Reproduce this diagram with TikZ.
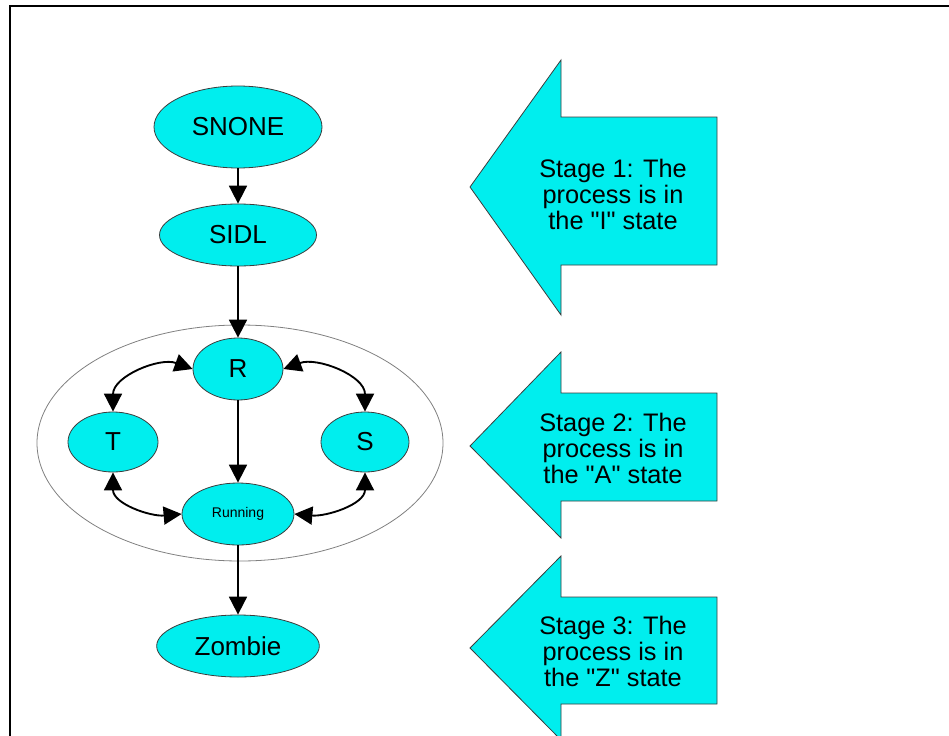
\documentclass[tikz,border=0pt]{standalone}
\usepackage{fontspec}
\setmainfont{Liberation Sans}
\usepackage{tikz}
\usetikzlibrary{arrows.meta,positioning,shapes.geometric}
\definecolor{stcyan}{RGB}{0,238,238}
\definecolor{stline}{RGB}{60,60,60}

\begin{document}
\begin{tikzpicture}[x=0.75pt,y=0.75pt,->,>={Triangle[length=13.5pt,width=13.5pt]},line width=1.4pt,
        proc/.style={ellipse,draw=stline,line width=0.6pt,fill=stcyan,inner sep=0pt,font=\fontsize{19.5}{21}\selectfont},
        stage/.style={-,draw=stline,line width=0.6pt,fill=stcyan},
        stagetext/.style={align=center,font=\fontsize{19}{19.5}\selectfont}]
        \useasboundingbox (0,0) rectangle (949,-735);
        \draw[-,line width=2.2pt] (10,-740) -- (10,-6) -- (952,-6);
        % the "A" group
        \draw[-,draw=gray,line width=0.6pt] (240,-443) ellipse (203 and 118);
		\node[proc,minimum width=126pt,minimum height=61.5pt]              (SNONE)   at (238,-127)        {SNONE};
		\node[proc,minimum width=117.75pt,minimum height=46.5pt,node distance=81pt]    (SIDL)    [below of=SNONE]     {SIDL};
		\node[proc,minimum width=67.5pt,minimum height=46.5pt,node distance=100.5pt]   (R)       [below of=SIDL]      {R};
		\node[proc,minimum width=84pt,minimum height=46.5pt,node distance=108.75pt,font=\fontsize{10.5}{12}\selectfont] (Running) [below of=R] {Running};
		\node[proc,minimum width=122pt,minimum height=46.5pt,node distance=99pt]       (Zombie)  [below of=Running]   {Zombie};
		\node[proc,minimum width=67.5pt,minimum height=45pt,node distance=54.75pt,xshift=-93.75pt] (T) [below of=R] {T};
		\node[proc,minimum width=66pt,minimum height=45pt,node distance=54.75pt,xshift=95.25pt]    (S) [below of=R] {S};
		\path (SNONE)    edge                         (SIDL)
		      (SIDL)     edge                         (R)
		      (R)        edge                         (Running)
		      (Running)  edge                         (Zombie)
		      (R.west)   edge [<->,out=160,in=90]     (T.north)
		      (R.east)   edge [<->,out=20,in=90]      (S.north)
		      (T.south)  edge [<->,out=-90,in=185]    (Running.west)
		      (S.south)  edge [<->,out=-90,in=-5]     (Running.east);
        % stage arrows
        \draw[stage] (470,-187) -- (561,-60) -- (561,-117) -- (717,-117) -- (717,-265) -- (561,-265) -- (561,-315) -- cycle;
        \draw[stage] (470,-446) -- (561,-352) -- (561,-393) -- (717,-393) -- (717,-501) -- (561,-501) -- (561,-538) -- cycle;
        \draw[stage] (470,-648) -- (561,-556) -- (561,-597) -- (717,-597) -- (717,-704) -- (561,-704) -- (561,-740) -- cycle;
		\node[stagetext] (stage1) at (613,-194) {Stage 1: The\\process is in\\the \textquotedbl I\textquotedbl{} state};
		\node[stagetext] (stage2) at (613,-448) {Stage 2: The\\process is in\\the \textquotedbl A\textquotedbl{} state};
		\node[stagetext] (stage3) at (613,-651) {Stage 3: The\\process is in\\the \textquotedbl Z\textquotedbl{} state};
\end{tikzpicture}
\end{document}
